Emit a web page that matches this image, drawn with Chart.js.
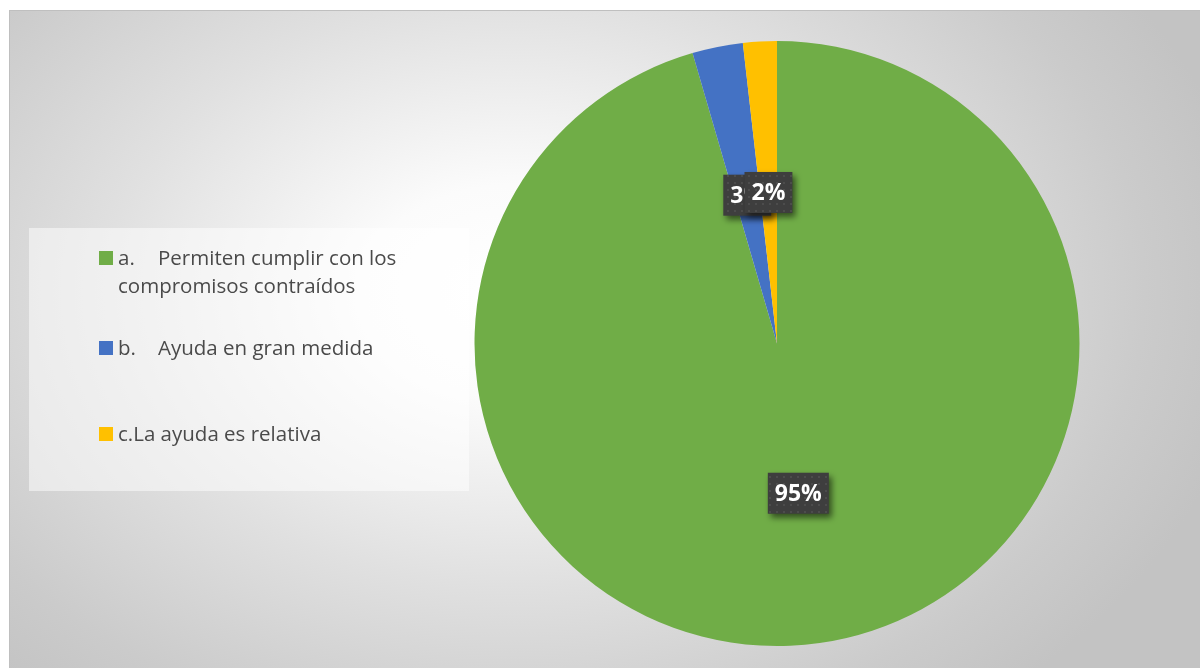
<!DOCTYPE html>
<html>
<head>
<meta charset="utf-8">
<script src="https://cdn.jsdelivr.net/npm/chart.js@4.4.1/dist/chart.umd.min.js"></script>
<style>
  html, body { margin: 0; padding: 0; background: #fff; width: 1200px; height: 668px; overflow: hidden; }
  #frame {
    position: absolute; left: 9px; top: 10px; width: 1200px; height: 670px;
    border: 1px solid #bfbfbf; box-sizing: border-box;
    background: radial-gradient(ellipse 62% 80% at 42% 42%, #ffffff 0%, #fbfbfb 20%, #e0e0e0 55%, #cbcbcb 85%, #c3c3c3 100%);
  }
  #pie { position: absolute; left: 0; top: 0; }
  #legend {
    position: absolute; left: 19px; top: 217px; width: 440px; height: 263px;
    background: rgba(255,255,255,0.5);
    font-family: "Open Sans", sans-serif; font-size: 20.5px; color: #4a4a4a;
  }
  .item { position: absolute; left: 89px; width: 300px; line-height: 28px; }
  .swatch { position: absolute; left: -19px; top: 8px; width: 14px; height: 14px; }
  .tab { display: inline-block; width: 40px; }
</style>
</head>
<body>
<div id="frame">
  <canvas id="pie" width="1190" height="658"></canvas>
  <div id="legend"></div>
</div>
<script>
let categories = [
  "a.\tPermiten cumplir con los compromisos contraídos",
  "b.\tAyuda en gran medida",
  "c.La ayuda es relativa"
];
let responses = [106, 3, 2];
let sliceColors = ['#70ad47', '#4472c4', '#ffc000'];
let legendTops = [15, 105, 191];

// small dotted pattern for the label boxes
let makePattern = function(ctx) {
  let p = document.createElement('canvas');
  p.width = 7; p.height = 7;
  let pc = p.getContext('2d');
  pc.fillStyle = '#3e3e3e';
  pc.fillRect(0, 0, 7, 7);
  pc.fillStyle = '#4c4c4c';
  pc.fillRect(3, 3, 2, 2);
  return ctx.createPattern(p, 'repeat');
};

let boxLabels = {
  id: 'boxLabels',
  afterDatasetsDraw(chart) {
    let ctx = chart.ctx;
    let meta = chart.getDatasetMeta(0);
    let data = chart.data.datasets[0].data;
    let total = data.reduce((a, b) => a + b, 0);
    let pattern = makePattern(ctx);
    meta.data.forEach((arc, i) => {
      let pos = arc.tooltipPosition();
      let text = Math.round(data[i] / total * 100) + '%';
      ctx.save();
      ctx.font = 'bold 23px "Open Sans", sans-serif';
      let w = ctx.measureText(text).width + 14;
      let h = 41;
      ctx.shadowColor = 'rgba(0,0,0,0.55)';
      ctx.shadowBlur = 6;
      ctx.shadowOffsetX = 3;
      ctx.shadowOffsetY = 4;
      ctx.fillStyle = pattern;
      ctx.fillRect(pos.x - w / 2, pos.y - h / 2, w, h);
      ctx.restore();
      ctx.save();
      ctx.font = 'bold 23px "Open Sans", sans-serif';
      ctx.fillStyle = '#ffffff';
      ctx.textAlign = 'center';
      ctx.textBaseline = 'middle';
      ctx.fillText(text, pos.x, pos.y + 1);
      ctx.restore();
    });
  }
};

let ctx = document.getElementById('pie').getContext('2d');
let pieChart = new Chart(ctx, {
  type: 'pie',
  data: {
    labels: categories,
    datasets: [{
      data: responses,
      backgroundColor: sliceColors,
      borderWidth: 0
    }]
  },
  options: {
    responsive: false,
    animation: false,
    layout: { padding: { left: 464, right: 120, top: 30, bottom: 23 } },
    plugins: {
      legend: { display: false },
      tooltip: { enabled: false }
    }
  },
  plugins: [boxLabels]
});

// legend built from the chart's own labels and colours
let legend = document.getElementById('legend');
pieChart.data.labels.forEach((label, i) => {
  let item = document.createElement('div');
  item.className = 'item';
  item.style.top = legendTops[i] + 'px';
  let sw = document.createElement('span');
  sw.className = 'swatch';
  sw.style.background = pieChart.data.datasets[0].backgroundColor[i];
  item.appendChild(sw);
  let parts = label.split('\t');
  if (parts.length > 1) {
    let tab = document.createElement('span');
    tab.className = 'tab';
    tab.textContent = parts[0];
    item.appendChild(tab);
    item.appendChild(document.createTextNode(parts[1]));
  } else {
    item.appendChild(document.createTextNode(label));
  }
  legend.appendChild(item);
});
</script>
</body>
</html>
